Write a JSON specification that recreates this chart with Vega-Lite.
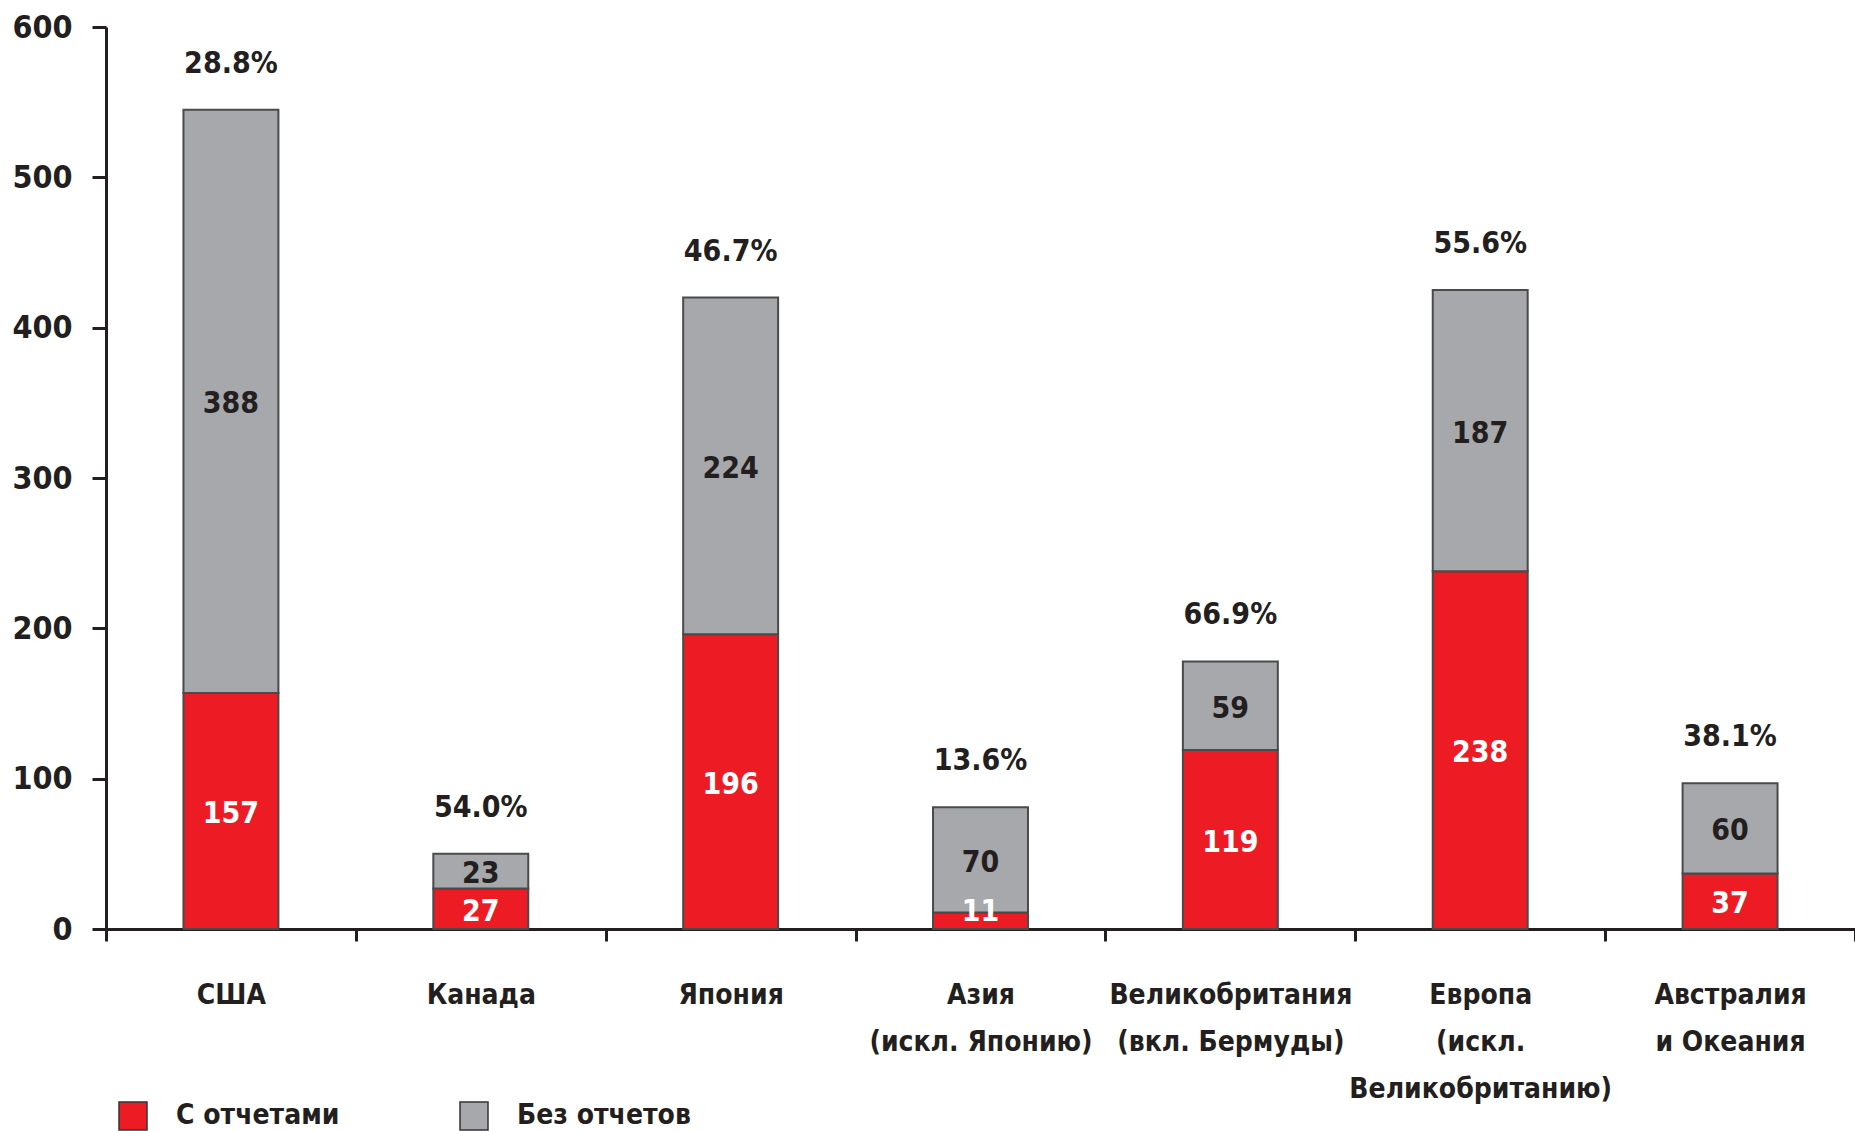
{
  "$schema": "https://vega.github.io/schema/vega-lite/v6.json",
  "width": 1749,
  "height": 902,
  "autosize": {"type": "none"},
  "padding": {"left": 106, "top": 27, "right": 0, "bottom": 202},
  "background": "white",
  "config": {
    "font": "DejaVu Sans Condensed, Liberation Sans Narrow, sans-serif",
    "view": {"stroke": null}
  },
  "data": {
    "values": [
      {"region": "США", "status": "С отчетами", "count": 157, "pct": "28.8%"},
      {"region": "США", "status": "Без отчетов", "count": 388, "pct": "28.8%"},
      {"region": "Канада", "status": "С отчетами", "count": 27, "pct": "54.0%"},
      {"region": "Канада", "status": "Без отчетов", "count": 23, "pct": "54.0%"},
      {"region": "Япония", "status": "С отчетами", "count": 196, "pct": "46.7%"},
      {"region": "Япония", "status": "Без отчетов", "count": 224, "pct": "46.7%"},
      {"region": "Азия|(искл. Японию)", "status": "С отчетами", "count": 11, "pct": "13.6%"},
      {"region": "Азия|(искл. Японию)", "status": "Без отчетов", "count": 70, "pct": "13.6%"},
      {"region": "Великобритания|(вкл. Бермуды)", "status": "С отчетами", "count": 119, "pct": "66.9%"},
      {"region": "Великобритания|(вкл. Бермуды)", "status": "Без отчетов", "count": 59, "pct": "66.9%"},
      {"region": "Европа|(искл.|Великобританию)", "status": "С отчетами", "count": 238, "pct": "55.6%"},
      {"region": "Европа|(искл.|Великобританию)", "status": "Без отчетов", "count": 187, "pct": "55.6%"},
      {"region": "Австралия|и Океания", "status": "С отчетами", "count": 37, "pct": "38.1%"},
      {"region": "Австралия|и Океания", "status": "Без отчетов", "count": 60, "pct": "38.1%"}
    ]
  },
  "transform": [
    {"stack": "count", "groupby": ["region"], "sort": [{"field": "status", "order": "descending"}], "as": ["y0", "y1"]},
    {"calculate": "max((datum.y0 + datum.y1) / 2, 13)", "as": "ymid"}
  ],
  "encoding": {
    "x": {
      "field": "region",
      "type": "nominal",
      "sort": null,
      "scale": {"paddingInner": 0, "paddingOuter": 0},
      "axis": {
        "title": null,
        "labelAngle": 0,
        "labelExpr": "split(datum.label, '|')",
        "labelFontSize": 28,
        "labelFontWeight": "bold",
        "labelColor": "#231F20",
        "labelLineHeight": 47,
        "labelPadding": 40,
        "labelLimit": 400,
        "tickBand": "extent",
        "tickSize": 12,
        "tickWidth": 3,
        "tickColor": "#231F20",
        "domainColor": "#231F20",
        "domainWidth": 3
      }
    }
  },
  "layer": [
    {
      "mark": {"type": "bar", "stroke": "#4a4a4a", "strokeWidth": 2, "width": {"band": 0.38}},
      "encoding": {
        "y": {
          "field": "y0",
          "type": "quantitative",
          "scale": {"domain": [0, 600], "nice": false},
          "axis": {
            "title": null,
            "values": [0, 100, 200, 300, 400, 500, 600],
            "grid": false,
            "tickSize": 14,
            "tickWidth": 3,
            "tickColor": "#231F20",
            "domainColor": "#231F20",
            "domainWidth": 3,
            "labelFontSize": 32,
            "labelFontWeight": "bold",
            "labelColor": "#231F20",
            "labelPadding": 20
          }
        },
        "y2": {"field": "y1"},
        "color": {
          "field": "status",
          "type": "nominal",
          "scale": {"domain": ["С отчетами", "Без отчетов"], "range": ["#ED1C24", "#A7A8AB"]},
          "legend": {
            "title": null,
            "orient": "none",
            "direction": "horizontal",
            "legendX": 12,
            "legendY": 1074,
            "symbolType": "square",
            "symbolSize": 784,
            "symbolStrokeColor": "#333333",
            "symbolStrokeWidth": 1.5,
            "labelFontSize": 28,
            "labelFontWeight": "bold",
            "labelColor": "#231F20",
            "labelOffset": 28,
            "labelLimit": 0,
            "columnPadding": 117
          }
        }
      }
    },
    {
      "mark": {"type": "text", "fontSize": 30, "fontWeight": "bold", "baseline": "middle", "dy": 3},
      "encoding": {
        "y": {"field": "ymid", "type": "quantitative"},
        "text": {"field": "count", "type": "quantitative"},
        "color": {
          "condition": {"test": "datum.status === 'С отчетами'", "value": "#FFFFFF"},
          "value": "#231F20"
        }
      }
    },
    {
      "transform": [{"filter": "datum.status === 'Без отчетов'"}],
      "mark": {"type": "text", "fontSize": 30, "fontWeight": "bold", "baseline": "middle", "dy": -46, "color": "#231F20"},
      "encoding": {
        "y": {"field": "y1", "type": "quantitative"},
        "text": {"field": "pct", "type": "nominal"}
      }
    }
  ]
}
